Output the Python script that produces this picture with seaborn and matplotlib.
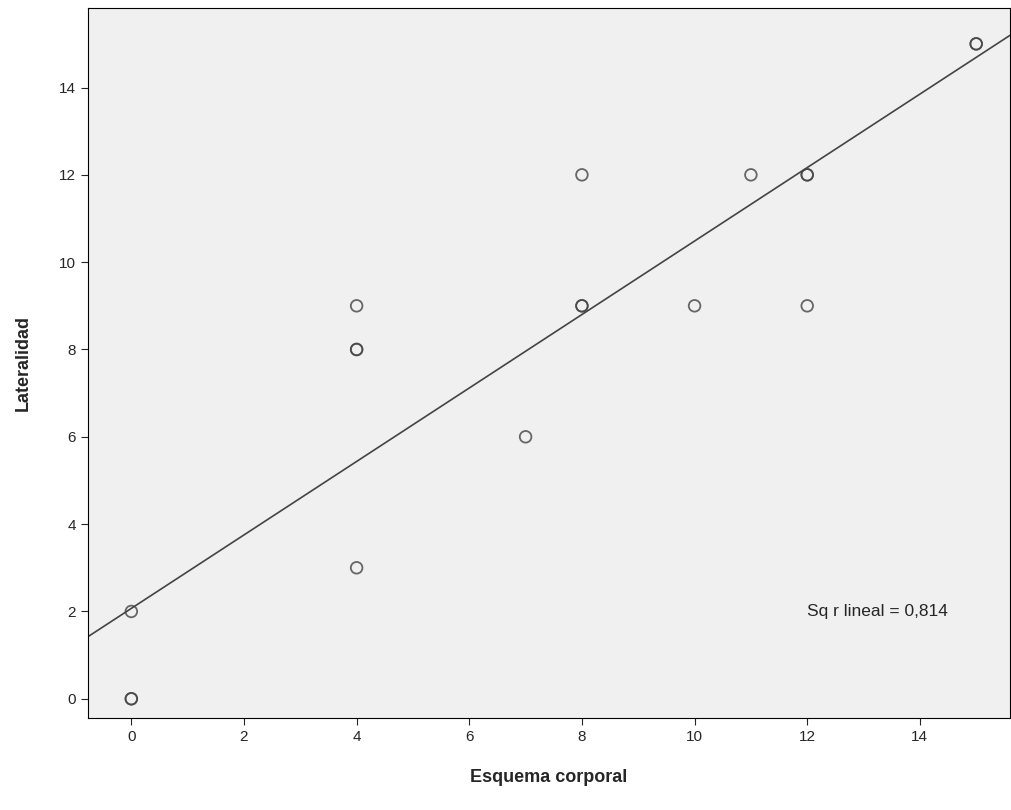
import numpy as np
import pandas as pd
import matplotlib.pyplot as plt
import seaborn as sns

sns.set_style("white")
plt.rcParams['font.family'] = ['Liberation Sans', 'DejaVu Sans']

# Points (duplicates repeated)
esquema = [0, 0, 0, 4, 4, 4, 4, 7, 8, 8, 8, 10, 11, 12, 12, 12, 15, 15]
lateralidad = [0, 0, 2, 9, 8, 8, 3, 6, 12, 9, 9, 9, 12, 12, 12, 9, 15, 15]
df = pd.DataFrame({'Esquema corporal': esquema, 'Lateralidad': lateralidad})

fig = plt.figure(figsize=(10.11, 8.10), dpi=100)
ax = fig.add_axes([0.087, 0.1136, 0.912, 0.877])
ax.set_facecolor('#f0f0f0')

sns.scatterplot(data=df, x='Esquema corporal', y='Lateralidad', ax=ax,
                marker='o', s=70, facecolors='none', edgecolor='#444444',
                linewidth=1.3, alpha=0.8, zorder=3)

xlim = (-0.77, 15.6)
slope, intercept = np.polyfit(esquema, lateralidad, 1)
xs = np.array(xlim)
sns.lineplot(x=xs, y=intercept + slope * xs, ax=ax, color='#444444', linewidth=1.2)

ax.text(12.0, 2.0, 'Sq r lineal = 0,814', fontsize=12.5, va='center')

ax.set_xlim(*xlim)
ax.set_ylim(-0.44, 15.83)
ax.set_xticks(range(0, 16, 2))
ax.set_yticks(range(0, 16, 2))
ax.tick_params(axis='both', direction='out', length=5, bottom=True, left=True, labelsize=11)
for s in ax.spines.values():
    s.set_color('black')
ax.set_xlabel('Esquema corporal', fontsize=13, fontweight='bold', labelpad=18)
ax.set_ylabel('Lateralidad', fontsize=13, fontweight='bold', labelpad=20)

fig.savefig('out.png', dpi=100)
